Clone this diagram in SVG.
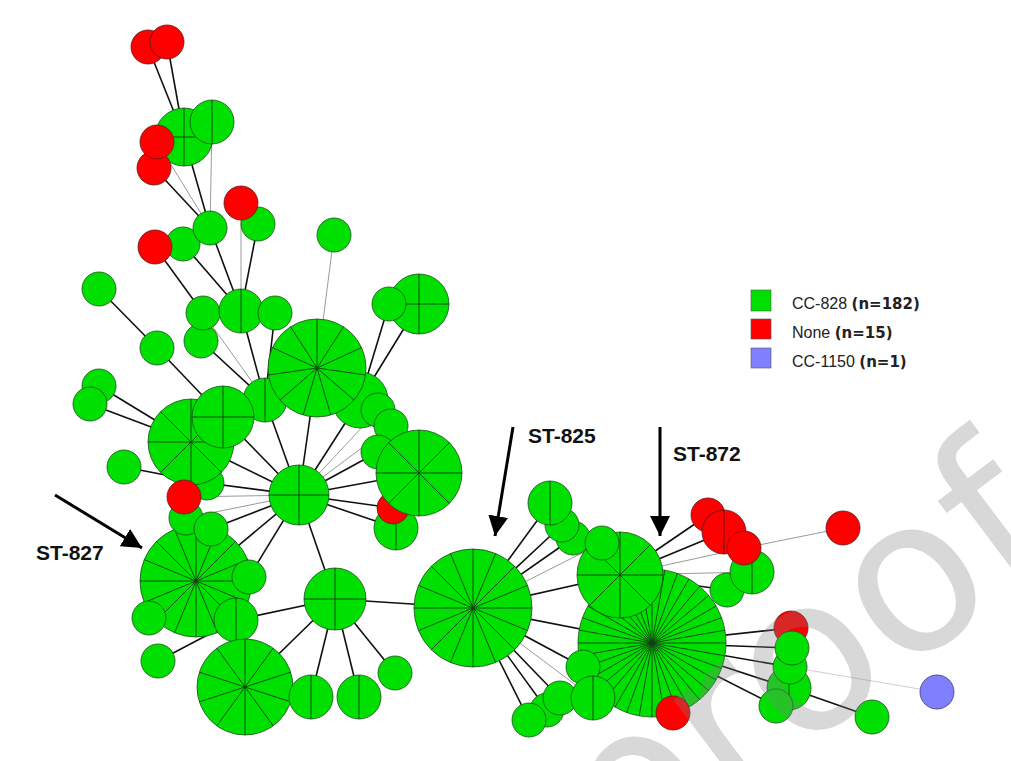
<svg xmlns="http://www.w3.org/2000/svg" xmlns:xlink="http://www.w3.org/1999/xlink" width="1011" height="761" viewBox="0 0 1011 761">
<style>
.g{fill:#00e000;stroke:#1b4d1b;stroke-width:0.8}
.r{fill:#ff0000;stroke:#5a1a1a;stroke-width:0.8}
.b{fill:#8080ff;stroke:#3a3a7a;stroke-width:0.8}
.sp{fill:none;stroke:#143d14;stroke-width:0.9;vector-effect:non-scaling-stroke}
.spr{fill:none;stroke:#5a1010;stroke-width:0.9;vector-effect:non-scaling-stroke}
.e{stroke:#111;stroke-width:1.6}
.eg{stroke:#9a9a9a;stroke-width:1}
.el{stroke:#cfcfcf;stroke-width:1}
.arr{stroke:#000;stroke-width:3;marker-end:url(#ah)}
.lab{font-family:"Liberation Sans",Arial,sans-serif;font-weight:bold;font-size:21px;fill:#111}
.leg{font-family:"Liberation Sans",Arial,sans-serif;font-size:16px;fill:#222}
.legb{font-family:"DejaVu Sans",sans-serif;font-weight:bold;font-size:15px;fill:#222}
.wm{font-family:"DejaVu Sans",sans-serif;font-size:214px;fill:#808080;opacity:0.3}
</style>
<defs>
<marker id="ah" viewBox="0 0 20 20" refX="20" refY="10" markerWidth="20" markerHeight="20" markerUnits="userSpaceOnUse" orient="auto"><path d="M0 0L20 10L0 20Z" fill="#000"/></marker>
<path id="sp2" class="sp" d="M0 -100V100"/>
<path id="sp2r" class="spr" d="M0 -100V100"/>
<path id="sp4" class="sp" d="M0 -100V100M-100 0H100"/>
<path id="sp8" class="sp" d="M0 -100V100M-100 0H100M-70.71 -70.71L70.71 70.71M-70.71 70.71L70.71 -70.71"/>
<path id="sp10" class="sp" d="M0 -100V100M58.78 -80.9L-58.78 80.9M95.11 -30.9L-95.11 30.9M95.11 30.9L-95.11 -30.9M58.78 80.9L-58.78 -80.9"/>
<path id="sp11" class="sp" d="M0 0L0 -100M0 0L54.06 -84.13M0 0L90.96 -41.54M0 0L98.98 14.23M0 0L75.57 65.49M0 0L28.17 95.95M0 0L-28.17 95.95M0 0L-75.57 65.49M0 0L-98.98 14.23M0 0L-90.96 -41.54M0 0L-54.06 -84.13"/>
<path id="sp16" class="sp" d="M-100 0H100M0 -100V100M-92.39 -38.27L92.39 38.27M-70.71 -70.71L70.71 70.71M-38.27 -92.39L38.27 92.39M38.27 -92.39L-38.27 92.39M70.71 -70.71L-70.71 70.71M92.39 -38.27L-92.39 38.27"/>
<path id="sp36" class="sp" d="M-100 0H100M-98.48 -17.36L98.48 17.36M-93.97 -34.2L93.97 34.2M-86.6 -50L86.6 50M-76.6 -64.28L76.6 64.28M-64.28 -76.6L64.28 76.6M-50 -86.6L50 86.6M-34.2 -93.97L34.2 93.97M-17.36 -98.48L17.36 98.48M0 -100V100M17.36 -98.48L-17.36 98.48M34.2 -93.97L-34.2 93.97M50 -86.6L-50 86.6M64.28 -76.6L-64.28 76.6M76.6 -64.28L-76.6 64.28M86.6 -50L-86.6 50M93.97 -34.2L-93.97 34.2M98.48 -17.36L-98.48 17.36"/>
</defs>
<rect width="1011" height="761" fill="#fff"/>
<g id="connectors">
<line class="e" x1="148" y1="47" x2="184" y2="137"/>
<line class="e" x1="167" y1="42" x2="184" y2="137"/>
<line class="e" x1="184" y1="137" x2="210" y2="228"/>
<line class="eg" x1="212" y1="122" x2="210" y2="228"/>
<line class="eg" x1="157" y1="142" x2="210" y2="228"/>
<line class="e" x1="154" y1="168" x2="210" y2="228"/>
<line class="e" x1="210" y1="228" x2="241" y2="311"/>
<line class="e" x1="183" y1="244" x2="241" y2="311"/>
<line class="eg" x1="241" y1="203" x2="241" y2="311"/>
<line class="e" x1="258" y1="224" x2="241" y2="311"/>
<line class="e" x1="155" y1="247" x2="203" y2="313"/>
<line class="eg" x1="334" y1="235" x2="317" y2="368"/>
<line class="e" x1="99" y1="289" x2="157" y2="348"/>
<line class="e" x1="157" y1="348" x2="223" y2="417"/>
<line class="e" x1="201" y1="341" x2="265" y2="400"/>
<line class="eg" x1="203" y1="313" x2="265" y2="400"/>
<line class="e" x1="241" y1="311" x2="265" y2="400"/>
<line class="e" x1="275" y1="313" x2="265" y2="400"/>
<line class="e" x1="99" y1="386" x2="191" y2="442"/>
<line class="e" x1="90" y1="404" x2="191" y2="442"/>
<line class="e" x1="124" y1="467" x2="207" y2="483"/>
<line class="e" x1="389" y1="304" x2="360" y2="400"/>
<line class="e" x1="419" y1="304" x2="360" y2="400"/>
<line class="e" x1="191" y1="442" x2="299" y2="495"/>
<line class="e" x1="207" y1="483" x2="299" y2="495"/>
<line class="e" x1="223" y1="417" x2="299" y2="495"/>
<line class="e" x1="265" y1="400" x2="299" y2="495"/>
<line class="e" x1="317" y1="368" x2="299" y2="495"/>
<line class="e" x1="360" y1="400" x2="299" y2="495"/>
<line class="eg" x1="378" y1="410" x2="299" y2="495"/>
<line class="eg" x1="391" y1="426" x2="299" y2="495"/>
<line class="e" x1="378" y1="452" x2="299" y2="495"/>
<line class="e" x1="419" y1="473" x2="299" y2="495"/>
<line class="e" x1="393" y1="508" x2="299" y2="495"/>
<line class="e" x1="396" y1="528" x2="299" y2="495"/>
<line class="eg" x1="184" y1="497" x2="299" y2="495"/>
<line class="eg" x1="186" y1="518" x2="299" y2="495"/>
<line class="e" x1="211" y1="529" x2="299" y2="495"/>
<line class="e" x1="196" y1="581" x2="299" y2="495"/>
<line class="e" x1="249" y1="577" x2="299" y2="495"/>
<line class="e" x1="299" y1="495" x2="335" y2="599"/>
<line class="e" x1="335" y1="599" x2="236" y2="620"/>
<line class="e" x1="335" y1="599" x2="245" y2="687"/>
<line class="e" x1="335" y1="599" x2="311" y2="697"/>
<line class="e" x1="335" y1="599" x2="359" y2="697"/>
<line class="e" x1="335" y1="599" x2="395" y2="673"/>
<line class="e" x1="335" y1="599" x2="473" y2="608"/>
<line class="e" x1="158" y1="661" x2="236" y2="620"/>
<line class="e" x1="473" y1="608" x2="550" y2="503"/>
<line class="e" x1="473" y1="608" x2="562" y2="525"/>
<line class="e" x1="473" y1="608" x2="573" y2="538"/>
<line class="eg" x1="473" y1="608" x2="602" y2="543"/>
<line class="e" x1="473" y1="608" x2="620" y2="575"/>
<line class="e" x1="473" y1="608" x2="652" y2="643"/>
<line class="e" x1="473" y1="608" x2="583" y2="667"/>
<line class="eg" x1="473" y1="608" x2="593" y2="698"/>
<line class="e" x1="473" y1="608" x2="560" y2="698"/>
<line class="e" x1="473" y1="608" x2="547" y2="710"/>
<line class="e" x1="473" y1="608" x2="529" y2="720"/>
<line class="e" x1="620" y1="575" x2="708" y2="515"/>
<line class="e" x1="620" y1="575" x2="724" y2="532"/>
<line class="eg" x1="620" y1="575" x2="744" y2="548"/>
<line class="eg" x1="620" y1="575" x2="752" y2="572"/>
<line class="e" x1="620" y1="575" x2="727" y2="590"/>
<line class="eg" x1="744" y1="548" x2="843" y2="528"/>
<line class="e" x1="652" y1="643" x2="791" y2="628"/>
<line class="e" x1="652" y1="643" x2="792" y2="648"/>
<line class="e" x1="652" y1="643" x2="790" y2="667"/>
<line class="e" x1="652" y1="643" x2="789" y2="688"/>
<line class="e" x1="652" y1="643" x2="776" y2="706"/>
<line class="e" x1="789" y1="688" x2="872" y2="717"/>
<line class="el" x1="790" y1="667" x2="937" y2="692"/>
</g>
<g id="n1"><circle class="r" cx="148" cy="47" r="17"/></g>
<g id="n2"><circle class="r" cx="167" cy="42" r="17"/></g>
<g id="n3"><circle class="g" cx="184" cy="137" r="29"/><use xlink:href="#sp4" transform="translate(184 137) scale(0.29)"/></g>
<g id="n4"><circle class="g" cx="212" cy="122" r="22"/><use xlink:href="#sp2" transform="translate(212 122) scale(0.22)"/></g>
<g id="n5"><circle class="r" cx="154" cy="168" r="17"/></g>
<g id="n6"><circle class="r" cx="157" cy="142" r="17"/></g>
<g id="n7"><circle class="g" cx="183" cy="244" r="17"/></g>
<g id="n8"><circle class="r" cx="155" cy="247" r="17"/></g>
<g id="n9"><circle class="g" cx="210" cy="228" r="17"/></g>
<g id="n10"><circle class="g" cx="258" cy="224" r="17"/></g>
<g id="n11"><circle class="r" cx="241" cy="203" r="17"/></g>
<g id="n12"><circle class="g" cx="334" cy="235" r="17"/></g>
<g id="n13"><circle class="g" cx="99" cy="289" r="17"/></g>
<g id="n14"><circle class="g" cx="157" cy="348" r="17"/></g>
<g id="n15"><circle class="g" cx="201" cy="341" r="17"/></g>
<g id="n16"><circle class="g" cx="203" cy="313" r="17"/></g>
<g id="n17"><circle class="g" cx="241" cy="311" r="22"/><use xlink:href="#sp2" transform="translate(241 311) scale(0.22)"/></g>
<g id="n18"><circle class="g" cx="275" cy="313" r="17"/></g>
<g id="n19"><circle class="g" cx="99" cy="386" r="17"/></g>
<g id="n20"><circle class="g" cx="90" cy="404" r="17"/></g>
<g id="n21"><circle class="g" cx="124" cy="467" r="17"/></g>
<g id="n22"><circle class="g" cx="207" cy="483" r="17"/></g>
<g id="n23"><circle class="g" cx="191" cy="442" r="43"/><use xlink:href="#sp8" transform="translate(191 442) scale(0.43)"/></g>
<g id="n24"><circle class="g" cx="265" cy="400" r="22"/><use xlink:href="#sp2" transform="translate(265 400) scale(0.22)"/></g>
<g id="n25"><circle class="g" cx="223" cy="417" r="31"/><use xlink:href="#sp4" transform="translate(223 417) scale(0.31)"/></g>
<g id="n26"><circle class="g" cx="360" cy="400" r="28"/></g>
<g id="n27"><circle class="g" cx="317" cy="368" r="49"/><use xlink:href="#sp11" transform="translate(317 368) scale(0.49)"/></g>
<g id="n28"><circle class="g" cx="378" cy="410" r="17"/></g>
<g id="n29"><circle class="g" cx="391" cy="426" r="17"/></g>
<g id="n30"><circle class="g" cx="419" cy="304" r="30"/><use xlink:href="#sp4" transform="translate(419 304) scale(0.30)"/></g>
<g id="n31"><circle class="g" cx="389" cy="304" r="17"/></g>
<g id="n32"><circle class="g" cx="378" cy="452" r="17"/></g>
<g id="n33"><circle class="g" cx="396" cy="528" r="22"/><use xlink:href="#sp2" transform="translate(396 528) scale(0.22)"/></g>
<g id="n34"><circle class="r" cx="393" cy="508" r="16"/></g>
<g id="n35"><circle class="g" cx="419" cy="473" r="43"/><use xlink:href="#sp8" transform="translate(419 473) scale(0.43)"/></g>
<g id="n36"><circle class="g" cx="299" cy="495" r="30"/><use xlink:href="#sp4" transform="translate(299 495) scale(0.30)"/></g>
<g id="n37"><circle class="g" cx="196" cy="581" r="56"/><use xlink:href="#sp16" transform="translate(196 581) scale(0.56)"/></g>
<g id="n38"><circle class="g" cx="186" cy="518" r="17"/></g>
<g id="n39"><circle class="g" cx="211" cy="529" r="17"/></g>
<g id="n40"><circle class="r" cx="184" cy="497" r="17"/></g>
<g id="n41"><circle class="g" cx="249" cy="577" r="17"/></g>
<g id="n42"><circle class="g" cx="149" cy="618" r="17"/></g>
<g id="n43"><circle class="g" cx="236" cy="620" r="22"/><use xlink:href="#sp2" transform="translate(236 620) scale(0.22)"/></g>
<g id="n44"><circle class="g" cx="158" cy="661" r="17"/></g>
<g id="n45"><circle class="g" cx="245" cy="687" r="48"/><use xlink:href="#sp10" transform="translate(245 687) scale(0.48)"/></g>
<g id="n46"><circle class="g" cx="311" cy="697" r="22"/><use xlink:href="#sp2" transform="translate(311 697) scale(0.22)"/></g>
<g id="n47"><circle class="g" cx="359" cy="697" r="22"/><use xlink:href="#sp2" transform="translate(359 697) scale(0.22)"/></g>
<g id="n48"><circle class="g" cx="395" cy="673" r="17"/></g>
<g id="n49"><circle class="g" cx="335" cy="599" r="31"/><use xlink:href="#sp4" transform="translate(335 599) scale(0.31)"/></g>
<g id="n50"><circle class="g" cx="473" cy="608" r="59"/><use xlink:href="#sp16" transform="translate(473 608) scale(0.59)"/></g>
<g id="n51"><circle class="g" cx="573" cy="538" r="17"/></g>
<g id="n52"><circle class="g" cx="562" cy="525" r="17"/></g>
<g id="n53"><circle class="g" cx="550" cy="503" r="22"/><use xlink:href="#sp2" transform="translate(550 503) scale(0.22)"/></g>
<g id="n54"><circle class="g" cx="652" cy="643" r="74"/><use xlink:href="#sp36" transform="translate(652 643) scale(0.74)"/></g>
<g id="n55"><circle class="g" cx="620" cy="575" r="43"/><use xlink:href="#sp8" transform="translate(620 575) scale(0.43)"/></g>
<g id="n56"><circle class="g" cx="602" cy="543" r="17"/></g>
<g id="n57"><circle class="g" cx="547" cy="710" r="17"/></g>
<g id="n58"><circle class="g" cx="529" cy="720" r="17"/></g>
<g id="n59"><circle class="g" cx="560" cy="698" r="17"/></g>
<g id="n60"><circle class="g" cx="583" cy="667" r="17"/></g>
<g id="n61"><circle class="g" cx="593" cy="698" r="22"/><use xlink:href="#sp2" transform="translate(593 698) scale(0.22)"/></g>
<g id="n62"><circle class="r" cx="673" cy="713" r="17"/></g>
<g id="n63"><circle class="r" cx="708" cy="515" r="17"/></g>
<g id="n64"><circle class="r" cx="724" cy="532" r="22"/><use xlink:href="#sp2r" transform="translate(724 532) scale(0.22)"/></g>
<g id="n65"><circle class="g" cx="727" cy="590" r="17"/></g>
<g id="n66"><circle class="g" cx="752" cy="572" r="22"/><use xlink:href="#sp2" transform="translate(752 572) scale(0.22)"/></g>
<g id="n67"><circle class="r" cx="744" cy="548" r="17"/></g>
<g id="n68"><circle class="r" cx="843" cy="528" r="17"/></g>
<g id="n69"><circle class="r" cx="791" cy="628" r="17"/></g>
<g id="n70"><circle class="g" cx="789" cy="688" r="22"/><use xlink:href="#sp2" transform="translate(789 688) scale(0.22)"/></g>
<g id="n71"><circle class="g" cx="790" cy="667" r="17"/></g>
<g id="n72"><circle class="g" cx="792" cy="648" r="17"/></g>
<g id="n73"><circle class="g" cx="776" cy="706" r="17"/></g>
<g id="n74"><circle class="g" cx="872" cy="717" r="17"/></g>
<g id="n75"><circle class="b" cx="937" cy="692" r="17"/></g>
<g id="arrows">
<line class="arr" x1="55" y1="495" x2="142" y2="548"/>
<line class="arr" x1="513" y1="427" x2="495" y2="536"/>
<line class="arr" x1="660" y1="427" x2="660" y2="536"/>
<text class="lab" x="36" y="560">ST-827</text>
<text class="lab" x="528" y="443">ST-825</text>
<text class="lab" x="673" y="461">ST-872</text>
</g>
<g id="legend">
<rect x="751" y="290" width="20" height="21" fill="#00e000" stroke="#555" stroke-width="0.6"/>
<rect x="751" y="319" width="20" height="20" fill="#ff0000" stroke="#555" stroke-width="0.6"/>
<rect x="751" y="348" width="20" height="20" fill="#8080ff" stroke="#555" stroke-width="0.6"/>
<text class="leg" x="792" y="309">CC-828 <tspan class="legb">(n=182)</tspan></text>
<text class="leg" x="792" y="338">None <tspan class="legb">(n=15)</tspan></text>
<text class="leg" x="792" y="367">CC-1150 <tspan class="legb">(n=1)</tspan></text>
</g>
<text class="wm" transform="translate(620 887) rotate(-37)">proof</text>
</svg>
